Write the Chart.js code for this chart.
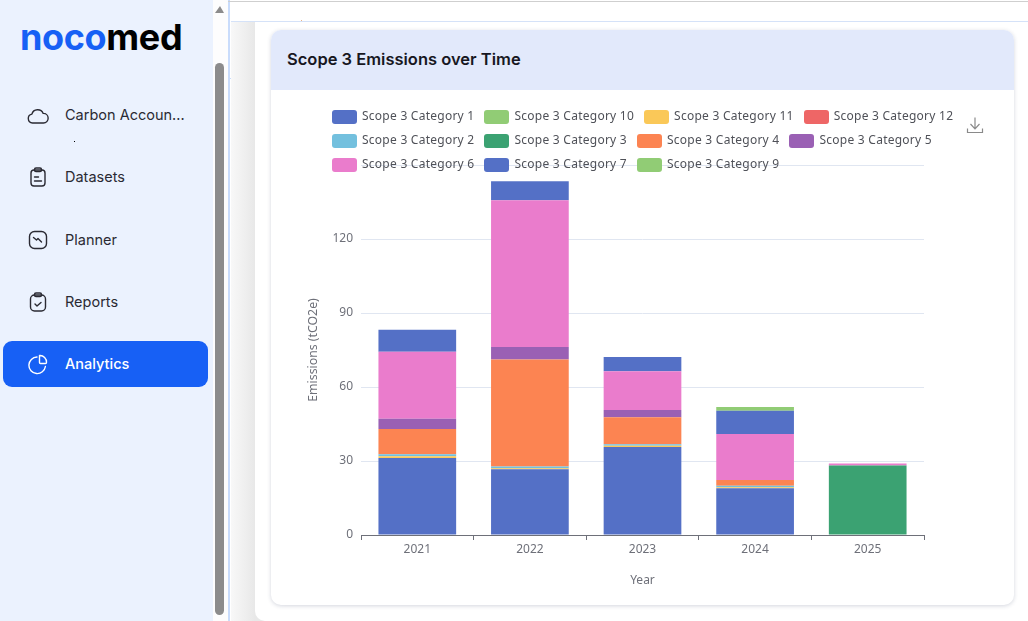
<!DOCTYPE html>
<html>
<head>
<meta charset="utf-8">
<title>Scope 3 Emissions over Time</title>
<script src="https://cdn.jsdelivr.net/npm/chart.js@4/dist/chart.umd.min.js"></script>
<style>
  * { box-sizing: border-box; }
  html, body { margin: 0; width: 1028px; height: 621px; overflow: hidden; background: #fff; font-family: Inter, sans-serif; }
  .abs { position: absolute; }
  #sidebar { left: 0; top: 0; width: 213px; height: 621px; background: #ebf2fe; }
  #logo { left: 20px; top: 12px; font-size: 36px; font-weight: 700; line-height: 50px; letter-spacing: -0.35px; color: #000; }
  #logo span { color: #1760f5; }
  .nav { left: 3px; width: 205px; height: 46px; border-radius: 9px; color: #2a2a33; font-size: 14.5px; line-height: 46px; padding-left: 62px; white-space: nowrap; }
  .nav.active { background: #1760f5; color: #fff; font-weight: 500; }
  .nav svg { position: absolute; left: 24px; top: 12px; width: 22px; height: 22px; fill: none; stroke: currentColor; stroke-width: 1.4; stroke-linecap: round; stroke-linejoin: round; }
  #scrolltrack { left: 213px; top: 0; width: 15px; height: 621px; background: #fdfdfd; }
  #thumb { left: 215px; top: 63px; width: 9px; height: 552px; background: #8c8c8c; border-radius: 5px; }
  #arrow { left: 215px; top: 6px; width: 0; height: 0; border-left: 5px solid transparent; border-right: 4px solid transparent; border-bottom: 7px solid #8c8c8c; }
  #rail { left: 228px; top: 0; width: 2px; height: 621px; background: #c9dcfb; }
  #topline { left: 228px; top: 1px; width: 800px; height: 1px; background: #cfcfcf; }
  #subline { left: 231px; top: 21px; width: 797px; height: 1px; background: #d5e2f8; }
  #gutter { left: 231px; top: 22px; width: 34px; height: 599px; background: linear-gradient(90deg, #f8f8f8, #e8e8e8 70%); }
  #panel { left: 255px; top: 22px; width: 773px; height: 599px; background: #fff; border-bottom-left-radius: 10px; }
  #card { left: 271px; top: 30px; width: 743px; height: 575px; background: #fff; border-radius: 10px; box-shadow: 0 1px 4px rgba(40, 50, 90, .2); overflow: hidden; }
  #cardhead { left: 0; top: 0; width: 743px; height: 60px; background: #e2e9fb; color: #17171f; font-size: 16.5px; font-weight: 600; line-height: 59px; padding-left: 16px; }
  #plot { left: 271px; top: 90px; width: 743px; height: 514px; }
  #legend { left: 332px; top: 110px; width: 640px; }
  .row { position: absolute; left: 0; height: 14px; display: flex; white-space: nowrap; }
  .item { display: flex; align-items: center; height: 14px; margin-right: 10px; font-family: "Noto Sans", sans-serif; font-size: 12px; letter-spacing: 0.25px; color: #4f5158; }
  .item b { font-weight: 400; position: relative; top: -2px; }
  .swatch { width: 25px; height: 14px; border-radius: 3px; margin-right: 5px; }
  #download { left: 966px; top: 116px; width: 18px; height: 18px; fill: none; stroke: #8a8a8a; stroke-width: 1.2; }
</style>
</head>
<body>
<div id="sidebar" class="abs"></div>
<div id="logo" class="abs"><span>noco</span>med</div>
<div class="abs nav" style="top:92px"><svg viewBox="0 0 22 22"><path d="M5.500 19a4.500 4.500 0 0 1-.6-8.900 6 6 0 0 1 11.300-.7 4.800 4.800 0 0 1 .3 9.600z"/></svg>Carbon Accoun...</div>
<div class="abs" style="left:74px;top:141px;width:1px;height:1px;background:#000"></div>
<div class="abs nav" style="top:154px"><svg viewBox="0 0 22 22"><rect x="4" y="4" width="14" height="16" rx="3"/><rect x="7.500" y="2" width="7" height="3.500" rx="1.500"/><path d="M7.500 11h4M7.500 15h7"/></svg>Datasets</div>
<div class="abs nav" style="top:217px"><svg viewBox="0 0 22 22"><rect x="2.500" y="2.500" width="17" height="17" rx="5"/><path d="M6.500 8.500l3 2.500 1.500-1.500 3.500 3.500"/></svg>Planner</div>
<div class="abs nav" style="top:279px"><svg viewBox="0 0 22 22"><rect x="3.500" y="4" width="15" height="16" rx="4"/><rect x="7.500" y="2" width="7" height="3.500" rx="1.500"/><path d="M8 13l2 2 4-3.500"/></svg>Reports</div>
<div class="abs nav active" style="top:341px"><svg viewBox="0 0 22 22"><path d="M10 4a8.300 8.300 0 1 0 8.400 9.500"/><path d="M12.500 2.500a6.500 6.500 0 0 1 7 7 1 1 0 0 1-1 1h-5a1 1 0 0 1-1-1z"/></svg>Analytics</div>

<div id="scrolltrack" class="abs"></div>
<div id="arrow" class="abs"></div>
<div id="thumb" class="abs"></div>
<div id="rail" class="abs"></div>
<div id="topline" class="abs"></div>
<div id="subline" class="abs"></div>
<div class="abs" style="left:228px;top:78px;width:3px;height:1px;background:#c9dcfb"></div>
<div class="abs" style="left:301px;top:20px;width:1px;height:1px;background:#e8b48c"></div>
<div id="gutter" class="abs"></div>
<div id="panel" class="abs"></div>
<div id="card" class="abs"><div id="cardhead" class="abs">Scope 3 Emissions over Time</div></div>

<div id="plot" class="abs"><canvas id="emissionsChart" width="743" height="514"></canvas></div>
<div id="legend" class="abs"></div>
<svg id="download" class="abs" viewBox="0 0 18 18"><path d="M9 1.500v11M4.500 8l4.500 4.800L13.500 8M1.500 12.500v4h15v-4"/></svg>

<script>
const YEARS = ['2021', '2022', '2023', '2024', '2025'];
const Y_TICK_LABELS = [0, 30, 60, 90, 120];

const CATEGORY_1  = [31.2, 26.7, 35.7, 19.0, 0];
const CATEGORY_10 = [0, 0, 0, 0, 0];
const CATEGORY_11 = [0.7, 0.4, 0.5, 0.4, 0];
const CATEGORY_12 = [0, 0, 0, 0, 0];
const CATEGORY_2  = [0.8, 0.7, 0.6, 0.6, 0];
const CATEGORY_3  = [0, 0, 0, 0, 28.2];
const CATEGORY_4  = [10.3, 43.3, 10.9, 2.3, 0];
const CATEGORY_5  = [4.1, 5.1, 3.0, 0, 0];
const CATEGORY_6  = [27.2, 59.5, 15.7, 18.6, 0.8];
const CATEGORY_7  = [8.9, 7.7, 5.8, 9.5, 0];
const CATEGORY_9  = [0, 0, 0, 1.5, 0];

const SERIES = [
  { label: 'Scope 3 Category 1',  data: CATEGORY_1,  color: '#5470c6' },
  { label: 'Scope 3 Category 10', data: CATEGORY_10, color: '#91cc75' },
  { label: 'Scope 3 Category 11', data: CATEGORY_11, color: '#fac858' },
  { label: 'Scope 3 Category 12', data: CATEGORY_12, color: '#ee6666' },
  { label: 'Scope 3 Category 2',  data: CATEGORY_2,  color: '#73c0de' },
  { label: 'Scope 3 Category 3',  data: CATEGORY_3,  color: '#3ba272' },
  { label: 'Scope 3 Category 4',  data: CATEGORY_4,  color: '#fc8452' },
  { label: 'Scope 3 Category 5',  data: CATEGORY_5,  color: '#9a60b4' },
  { label: 'Scope 3 Category 6',  data: CATEGORY_6,  color: '#ea7ccc' },
  { label: 'Scope 3 Category 7',  data: CATEGORY_7,  color: '#5470c6' },
  { label: 'Scope 3 Category 9',  data: CATEGORY_9,  color: '#91cc75' },
];

const AXIS_COLOR = '#6e7079';
const CHART_FONT = { family: '"Noto Sans", sans-serif', size: 12 };

function renderLegend() {
  const legend = document.getElementById('legend');
  [0, 4, 8].forEach((start, r) => {
    const row = document.createElement('div');
    row.className = 'row';
    row.style.top = (r * 24) + 'px';
    SERIES.slice(start, start + 4).forEach(s => {
      const item = document.createElement('div');
      item.className = 'item';
      item.innerHTML = `<span class="swatch" style="background:${s.color}"></span><b>${s.label}</b>`;
      row.appendChild(item);
    });
    legend.appendChild(row);
  });
}

function renderChart() {
  const ctx = document.getElementById('emissionsChart').getContext('2d');
  new Chart(ctx, {
    type: 'bar',
    data: {
      labels: YEARS,
      datasets: SERIES.map(s => ({
        label: s.label,
        data: s.data,
        backgroundColor: s.color,
        barPercentage: 0.69,
        categoryPercentage: 1,
      })),
    },
    options: {
      responsive: false,
      animation: false,
      layout: { padding: { top: 75, right: 90, bottom: 0, left: 0 } },
      plugins: { legend: { display: false }, tooltip: { enabled: false } },
      scales: {
        x: {
          stacked: true,
          afterFit: (scale) => { scale.height = 69; },
          border: { color: AXIS_COLOR },
          grid: { drawOnChartArea: false, color: AXIS_COLOR, tickLength: 5 },
          ticks: { color: AXIS_COLOR, font: CHART_FONT, padding: 2, maxRotation: 0 },
          title: { display: true, text: 'Year', color: AXIS_COLOR, font: CHART_FONT, padding: { top: 0, bottom: 16 } },
        },
        y: {
          stacked: true,
          min: 0,
          max: 150,
          afterFit: (scale) => { scale.width = 90; },
          border: { display: false },
          grid: { color: '#e0e6f1', drawTicks: false },
          ticks: {
            stepSize: 30,
            color: AXIS_COLOR,
            font: CHART_FONT,
            padding: 8,
            callback: (value) => Y_TICK_LABELS.includes(value) ? value : '',
          },
          title: { display: true, text: 'Emissions (tCO2e)', color: AXIS_COLOR, font: { family: CHART_FONT.family, size: 12.3 }, padding: { top: 35, bottom: 0 } },
        },
      },
    },
  });
}

renderLegend();
renderChart();
</script>
</body>
</html>
